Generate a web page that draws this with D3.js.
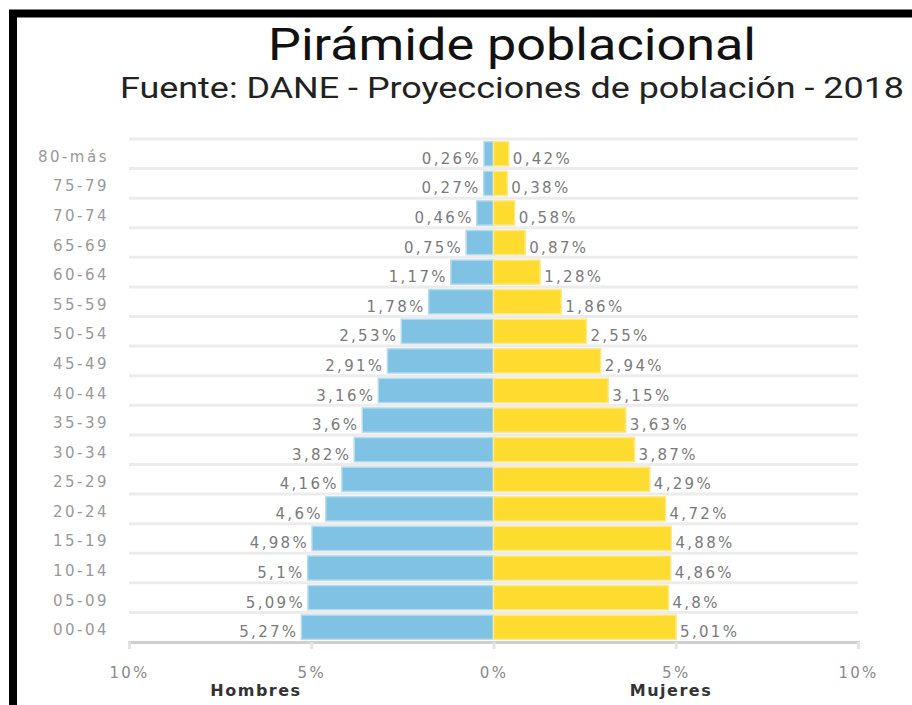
<!DOCTYPE html>
<html>
<head>
<meta charset="utf-8">
<script src="https://cdn.jsdelivr.net/npm/d3@7"></script>
<style>
  body { margin: 0; background: #fff; }
  svg { display: block; }
</style>
</head>
<body>
<div id="chart"></div>
<script>
var width = 912;
var height = 705;

// grupos de edad, de arriba hacia abajo
var ages = ["80-más", "75-79", "70-74", "65-69", "60-64", "55-59", "50-54", "45-49",
  "40-44", "35-39", "30-34", "25-29", "20-24", "15-19", "10-14", "05-09", "00-04"];
var hombres = [0.26, 0.27, 0.46, 0.75, 1.17, 1.78, 2.53, 2.91, 3.16, 3.6, 3.82, 4.16, 4.6, 4.98, 5.1, 5.09, 5.27];
var mujeres = [0.42, 0.38, 0.58, 0.87, 1.28, 1.86, 2.55, 2.94, 3.15, 3.63, 3.87, 4.29, 4.72, 4.88, 4.86, 4.8, 5.01];
var ticks = [-10, -5, 0, 5, 10];

var svg = d3.select("#chart")
  .append("svg")
  .attr("width", width)
  .attr("height", height);

// marco negro
svg.append("rect")
  .attr("x", 13).attr("y", 13.5)
  .attr("width", 1100).attr("height", 800)
  .attr("fill", "none")
  .attr("stroke", "#000")
  .attr("stroke-width", 8);

svg.append("text")
  .attr("x", 512).attr("y", 60)
  .attr("text-anchor", "middle")
  .style("font-family", "Roboto")
  .style("font-size", "44px")
  .attr("textLength", 488)
  .attr("lengthAdjust", "spacingAndGlyphs")
  .attr("fill", "#111")
  .text("Pirámide poblacional");

svg.append("text")
  .attr("x", 512).attr("y", 98)
  .attr("text-anchor", "middle")
  .style("font-family", "Roboto")
  .style("font-size", "29px")
  .attr("textLength", 784)
  .attr("lengthAdjust", "spacingAndGlyphs")
  .attr("fill", "#222")
  .text("Fuente: DANE - Proyecciones de población - 2018");

var x = d3.scaleLinear().domain([-10, 10]).range([129, 858]);
var y = d3.scaleBand().domain(ages).range([139, 642]).paddingInner(0.18).paddingOuter(0.09);
var half = y.step() * y.paddingInner() / 2;

var rows = ages.map(function(a, i) {
  return { age: a, h: hombres[i], m: mujeres[i] };
});

// lineas de fondo
svg.append("g")
  .selectAll("line")
  .data(ages)
  .enter()
  .append("line")
  .attr("x1", x(-10)).attr("x2", x(10))
  .attr("y1", function(d) { return y(d) - half; })
  .attr("y2", function(d) { return y(d) - half; })
  .attr("stroke", "#ececec")
  .attr("stroke-width", 3);

// eje x
var xAxis = svg.append("g")
  .attr("transform", "translate(0," + 642 + ")")
  .call(d3.axisBottom(x).tickValues(ticks).tickSize(7).tickFormat(function(d) { return Math.abs(d) + "%"; }));
xAxis.select(".domain").attr("stroke", "#cfcfcf").attr("stroke-width", 3);
xAxis.selectAll(".tick line").attr("stroke", "#e4e4e4").attr("stroke-width", 3);
xAxis.selectAll(".tick text")
  .attr("y", 36).attr("dy", null)
  .attr("fill", "#8a8a8a")
  .style("font-family", "DejaVu Sans")
  .style("font-size", "15px")
  .style("letter-spacing", "2.3px");

// barras
var bars = svg.append("g");
bars.selectAll("rect.h")
  .data(rows)
  .enter()
  .append("rect")
  .attr("class", "h")
  .attr("x", function(d) { return x(-d.h); })
  .attr("y", function(d) { return y(d.age); })
  .attr("width", function(d) { return x(0) - x(-d.h); })
  .attr("height", y.bandwidth())
  .attr("fill", "#80c2e3")
  .attr("stroke", "#b5dbef")
  .attr("stroke-width", 1.5);

bars.selectAll("rect.m")
  .data(rows)
  .enter()
  .append("rect")
  .attr("class", "m")
  .attr("x", x(0))
  .attr("y", function(d) { return y(d.age); })
  .attr("width", function(d) { return x(d.m) - x(0); })
  .attr("height", y.bandwidth())
  .attr("fill", "#fddb2f")
  .attr("stroke", "#fde98c")
  .attr("stroke-width", 1.5);

function fmt(v) { return String(v).replace(".", ",") + "%"; }

var labels = svg.append("g")
  .style("font-family", "DejaVu Sans")
  .style("font-size", "15px")
  .style("letter-spacing", "2.3px")
  .attr("fill", "#7a7a7a");

labels.selectAll("text.h")
  .data(rows)
  .enter()
  .append("text")
  .attr("x", function(d) { return x(-d.h) - 3; })
  .attr("y", function(d) { return y(d.age) + y.bandwidth() / 2 + 10; })
  .attr("text-anchor", "end")
  .text(function(d) { return fmt(d.h); });

labels.selectAll("text.m")
  .data(rows)
  .enter()
  .append("text")
  .attr("x", function(d) { return x(d.m) + 4; })
  .attr("y", function(d) { return y(d.age) + y.bandwidth() / 2 + 10; })
  .text(function(d) { return fmt(d.m); });

// etiquetas de edad
svg.append("g")
  .selectAll("text")
  .data(ages)
  .enter()
  .append("text")
  .attr("x", 109)
  .attr("y", function(d) { return y(d) + y.bandwidth() / 2 + 8; })
  .attr("text-anchor", "end")
  .style("font-family", "DejaVu Sans")
  .style("font-size", "15px")
  .style("letter-spacing", "2.5px")
  .attr("fill", "#999")
  .text(function(d) { return d; });

// titulos de eje
svg.append("text")
  .attr("x", 256).attr("y", 696)
  .attr("text-anchor", "middle")
  .style("font-family", "DejaVu Sans")
  .style("font-size", "16px")
  .style("font-weight", "bold")
  .style("letter-spacing", "1.5px")
  .attr("fill", "#333")
  .text("Hombres");

svg.append("text")
  .attr("x", 671).attr("y", 696)
  .attr("text-anchor", "middle")
  .style("font-family", "DejaVu Sans")
  .style("font-size", "16px")
  .style("font-weight", "bold")
  .style("letter-spacing", "1.5px")
  .attr("fill", "#333")
  .text("Mujeres");
</script>
</body>
</html>
